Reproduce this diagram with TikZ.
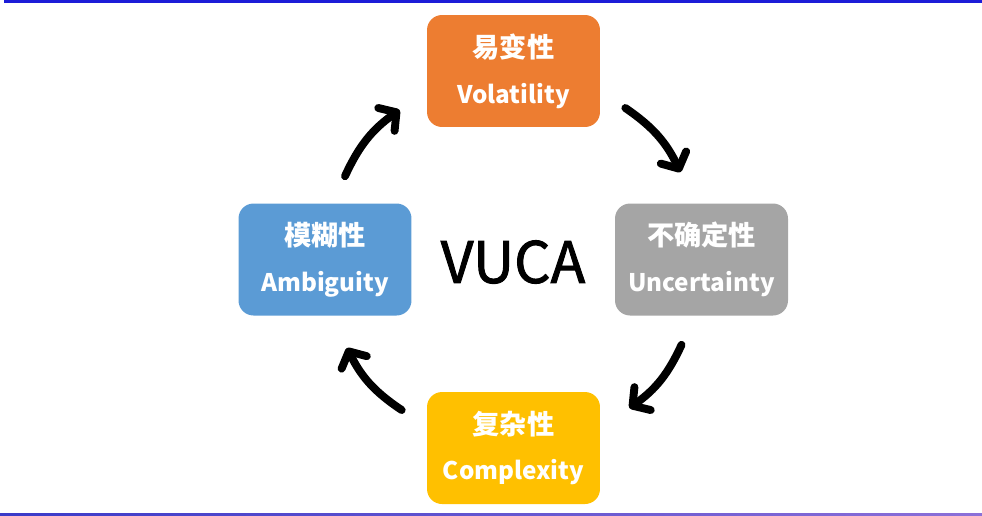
\documentclass[tikz,border=0pt]{standalone}
\usepackage{fontspec}
\setmainfont{Noto Sans CJK SC}
\newfontfamily\vucafont{Noto Sans CJK SC}[FakeBold=1.6]
\usepackage{tikz}
\usetikzlibrary{positioning,arrows.meta}

\definecolor{vorange}{HTML}{ED7D31}
\definecolor{ugray}{HTML}{A5A5A5}
\definecolor{cyellow}{HTML}{FFC000}
\definecolor{ablue}{HTML}{5B9BD5}
\definecolor{topblue}{HTML}{1C1CD8}
\definecolor{lineblue}{HTML}{3A3AC8}
\definecolor{linepurple}{HTML}{8C70D8}

\newcommand{\latinline}[1]{{\fontsize{13.8}{26}\selectfont #1}}

\begin{document}
\begin{tikzpicture}[x=0.02cm, y=-0.02cm,
    box/.style={rectangle, rounded corners=0.3cm, minimum width=3.46cm, minimum height=2.24cm,
        text=white, align=center, font=\fontsize{15.5}{26}\selectfont\bfseries},
    cycle/.style={line width=4.5pt, line cap=round, line join=round,
        -{Straight Barb[length=7pt, width=16pt, line cap=round, line join=round]}}]

    \useasboundingbox (0,0) rectangle (982,515);
    \fill[topblue] (4,0) rectangle (982,2.5);
    \shade[left color=lineblue, right color=linepurple] (0,513) rectangle (982,515);

    \node (vol) [box, fill=vorange] at (513.5,71) {易变性\\\latinline{Volatility}};
    \node (unc) [box, fill=ugray] at (701.5,259.5) {不确定性\\\latinline{Uncertainty}};
    \node (com) [box, fill=cyellow] at (513.5,448) {复杂性\\\latinline{Complexity}};
    \node (amb) [box, fill=ablue] at (325,259.5) {模糊性\\\latinline{Ambiguity}};
    \node (vuca) at (513,262) {\vucafont\fontsize{32.5}{40}\selectfont VUCA};

    % arrow ends, placed off the box corners
    \coordinate (a1) at ([shift={(20,-27)}]amb.north);
    \coordinate (v0) at ([shift={(-27,39)}]vol.west);
    \coordinate (v1) at ([shift={(25,37)}]vol.east);
    \coordinate (u0) at ([shift={(-21,-31)}]unc.north);
    \coordinate (u1) at ([shift={(-20,29)}]unc.south);
    \coordinate (c0) at ([shift={(29,-40)}]com.east);
    \coordinate (c1) at ([shift={(-25,-38)}]com.west);
    \coordinate (a0) at ([shift={(22,32)}]amb.south);

    \draw [cycle] (a1) to[bend left=15] (v0);
    \draw [cycle] (v1) to[bend left=15] (u0);
    \draw [cycle] (u1) to[bend left=15] (c0);
    \draw [cycle] (c1) to[bend left=15] (a0);
\end{tikzpicture}
\end{document}
